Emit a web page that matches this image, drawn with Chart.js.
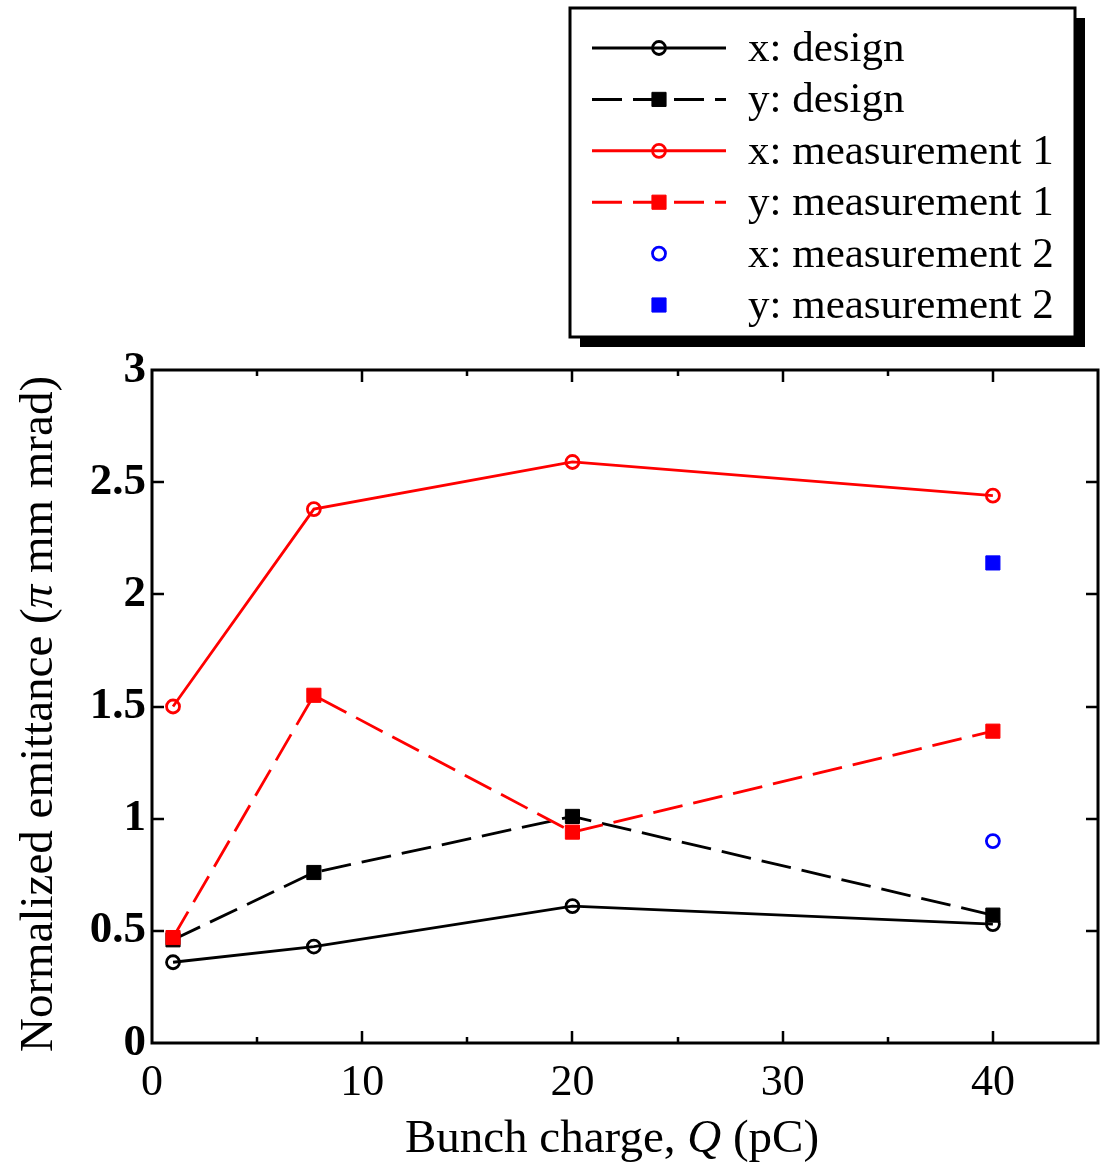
<!DOCTYPE html>
<html>
<head>
<meta charset="utf-8">
<title>Normalized emittance vs bunch charge</title>
<script src="https://cdn.jsdelivr.net/npm/chart.js@4/dist/chart.umd.min.js"></script>
<style>
  html, body { margin: 0; padding: 0; background: #ffffff; }
  #wrap { width: 1103px; height: 1162px; position: relative; }
</style>
</head>
<body>
<div id="wrap"><canvas id="c"></canvas></div>
<script>
// Bunch charge (pC) of each simulated / measured point
const charges = [1, 7.7, 20, 40];
// Normalized emittance (pi mm mrad)
const xDesign = [0.36, 0.43, 0.61, 0.53];
const yDesign = [0.46, 0.76, 1.01, 0.57];
const xMeas1 = [1.50, 2.38, 2.59, 2.44];
const yMeas1 = [0.47, 1.55, 0.94, 1.39];
// Second measurement, taken at 40 pC only
const meas2Charges = [40];
const xMeas2 = [0.90];
const yMeas2 = [2.14];

const seriesLabels = ['x: design', 'y: design', 'x: measurement 1', 'y: measurement 1', 'x: measurement 2', 'y: measurement 2'];

const xTickStep = 5;     // minor step; labelled every 10
const yTickStep = 0.5;

const SERIF = '"Liberation Serif", "Times New Roman", Times, serif';
const DASH = [30, 11];

function pts(xs, ys) { return xs.map((x, i) => ({ x: x, y: ys[i] })); }

function circleSet(label, color, xs, ys, line, order) {
  return {
    label: label, data: pts(xs, ys), order: order,
    showLine: line, borderColor: color, borderWidth: 2.8, borderDash: [],
    pointStyle: 'circle', pointRadius: 6.5, pointHoverRadius: 6.5,
    pointBorderWidth: 2.8, pointBorderColor: color,
    pointBackgroundColor: 'rgba(0,0,0,0)', backgroundColor: 'rgba(0,0,0,0)',
    tension: 0
  };
}
function squareSet(label, color, xs, ys, line, order) {
  return {
    label: label, data: pts(xs, ys), order: order,
    showLine: line, borderColor: color, borderWidth: 2.8, borderDash: line ? DASH : [],
    pointStyle: 'rect', pointRadius: 10, pointHoverRadius: 10,
    pointBorderWidth: 1, pointBorderColor: color,
    pointBackgroundColor: color, backgroundColor: color,
    tension: 0
  };
}

const datasets = [
  circleSet(seriesLabels[0], '#000000', charges, xDesign, true, 3),
  squareSet(seriesLabels[1], '#000000', charges, yDesign, true, 2),
  circleSet(seriesLabels[2], '#ff0000', charges, xMeas1, true, 1),
  squareSet(seriesLabels[3], '#ff0000', charges, yMeas1, true, 0),
  circleSet(seriesLabels[4], '#0000ff', meas2Charges, xMeas2, false, 0),
  squareSet(seriesLabels[5], '#0000ff', meas2Charges, yMeas2, false, 0)
];

// Boxed frame with inward ticks on all four sides
const framePlugin = {
  id: 'frame',
  beforeDatasetsDraw(chart) {
    const ctx = chart.ctx, a = chart.chartArea;
    const xs = chart.scales.x, ys = chart.scales.y;
    ctx.save();
    ctx.strokeStyle = '#000';
    ctx.lineWidth = 2.5;
    ctx.beginPath();
    xs.ticks.forEach(t => {
      if (t.value <= xs.min || t.value >= xs.max) return;
      const px = Math.round(xs.getPixelForValue(t.value));
      const len = (t.value % 10 === 0) ? 12 : 6;
      ctx.moveTo(px, a.bottom); ctx.lineTo(px, a.bottom - len);
      ctx.moveTo(px, a.top); ctx.lineTo(px, a.top + len);
    });
    ys.ticks.forEach(t => {
      if (t.value <= ys.min || t.value >= ys.max) return;
      const py = Math.round(ys.getPixelForValue(t.value));
      ctx.moveTo(a.left, py); ctx.lineTo(a.left + 12, py);
      ctx.moveTo(a.right, py); ctx.lineTo(a.right - 12, py);
    });
    ctx.stroke();
    ctx.lineWidth = 3;
    ctx.strokeRect(a.left, a.top, a.right - a.left, a.bottom - a.top);
    ctx.restore();
  }
};

// Axis titles with italic symbols
function drawRuns(ctx, runs, cx, cy) {
  let total = 0;
  runs.forEach(r => { ctx.font = r.font; r.w = ctx.measureText(r.text).width; total += r.w; });
  let x = cx - total / 2;
  runs.forEach(r => { ctx.font = r.font; ctx.fillText(r.text, x, cy); x += r.w; });
}
const titlePlugin = {
  id: 'titles',
  afterDraw(chart) {
    const ctx = chart.ctx;
    ctx.save();
    ctx.fillStyle = '#000';
    ctx.textBaseline = 'alphabetic';
    ctx.textAlign = 'left';
    const reg = '47px ' + SERIF, ital = 'italic 47px ' + SERIF;
    drawRuns(ctx, [
      { text: 'Bunch charge, ', font: reg },
      { text: 'Q', font: ital },
      { text: ' (pC)', font: reg }
    ], 612, 1152);
    ctx.translate(52, 714);
    ctx.rotate(-Math.PI / 2);
    drawRuns(ctx, [
      { text: 'Normalized emittance (', font: reg },
      { text: '\u03C0', font: ital },
      { text: ' mm mrad)', font: reg }
    ], 0, 0);
    ctx.restore();
  }
};

// Framed legend with drop shadow, one row per dataset
const legendPlugin = {
  id: 'boxLegend',
  afterDraw(chart) {
    const ctx = chart.ctx;
    const bx = 570, by = 8, bw = 505, bh = 329, sh = 10;
    ctx.save();
    ctx.fillStyle = '#000';
    ctx.fillRect(bx + sh, by + sh, bw, bh);
    ctx.fillStyle = '#fff';
    ctx.fillRect(bx, by, bw, bh);
    ctx.strokeStyle = '#000';
    ctx.lineWidth = 3;
    ctx.strokeRect(bx, by, bw, bh);

    const x0 = 592, x1 = 726, xm = 659, xt = 748, y0 = 48, dy = 51.4;
    chart.data.datasets.forEach((ds, i) => {
      const y = y0 + i * dy;
      if (ds.showLine) {
        ctx.save();
        ctx.strokeStyle = ds.borderColor;
        ctx.lineWidth = 3;
        ctx.setLineDash(ds.borderDash || []);
        ctx.beginPath();
        ctx.moveTo(x0, y); ctx.lineTo(x1, y);
        ctx.stroke();
        ctx.restore();
      }
      ctx.save();
      ctx.strokeStyle = ds.pointBorderColor;
      ctx.fillStyle = ds.pointBackgroundColor;
      ctx.lineWidth = ds.pointBorderWidth;
      Chart.helpers.drawPoint(ctx, {
        pointStyle: ds.pointStyle, radius: ds.pointRadius, rotation: 0, borderWidth: ds.pointBorderWidth
      }, xm, y);
      ctx.restore();
      ctx.fillStyle = '#000';
      ctx.font = '43px ' + SERIF;
      ctx.textBaseline = 'alphabetic';
      ctx.textAlign = 'left';
      ctx.fillText(ds.label, xt, y + 13);
    });
    ctx.restore();
  }
};

new Chart(document.getElementById('c'), {
  type: 'line',
  data: { datasets: datasets },
  options: {
    responsive: true,
    maintainAspectRatio: false,
    animation: false,
    layout: { autoPadding: false, padding: { top: 370, right: 5, bottom: 0, left: 0 } },
    plugins: { legend: { display: false }, tooltip: { enabled: false } },
    scales: {
      x: {
        type: 'linear', min: 0, max: 45,
        grid: { display: false, drawTicks: false },
        border: { display: false },
        ticks: {
          stepSize: xTickStep, autoSkip: false, maxRotation: 0, padding: 14,
          color: '#000', font: { family: SERIF, size: 44 },
          callback: v => (v % 10 === 0 && v < 45) ? String(v) : ''
        },
        afterFit: s => { s.height = 119; s.paddingLeft = 0; s.paddingRight = 0; }
      },
      y: {
        type: 'linear', min: 0, max: 3,
        grid: { display: false, drawTicks: false },
        border: { display: false },
        ticks: {
          stepSize: yTickStep, padding: 6,
          color: '#000', font: { family: SERIF, size: 45, weight: 'bold' },
          callback: v => String(Math.round(v * 10) / 10)
        },
        afterFit: s => { s.width = 152; s.paddingTop = 0; s.paddingBottom = 0; }
      }
    }
  },
  plugins: [framePlugin, titlePlugin, legendPlugin]
});
</script>
</body>
</html>
